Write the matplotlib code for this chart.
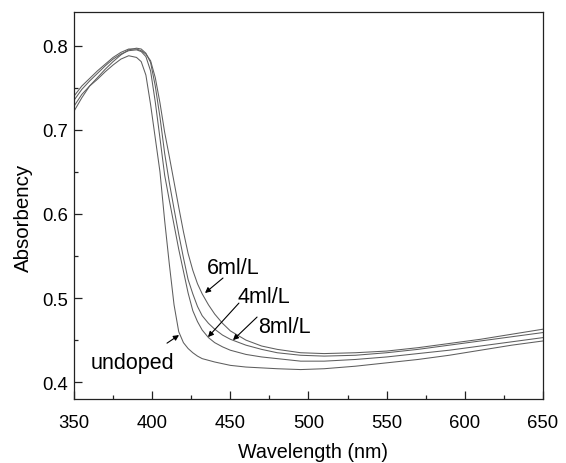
import matplotlib
matplotlib.use("Agg")
import matplotlib.pyplot as plt
from matplotlib.ticker import MultipleLocator

plt.rcParams['font.family'] = ['Liberation Sans', 'DejaVu Sans']

wavelength = [350, 355, 360, 365, 370, 375, 380, 385, 390, 393, 396, 399, 402, 405,
              408, 411, 414, 417, 420, 423, 426, 429, 432, 436, 440, 445, 450, 460,
              470, 480, 495, 510, 530, 550, 570, 590, 610, 630, 650]

undoped = [0.728, 0.742, 0.752, 0.760, 0.769, 0.777, 0.784, 0.788, 0.786, 0.781, 0.765,
           0.730, 0.690, 0.650, 0.592, 0.540, 0.492, 0.460, 0.447, 0.440, 0.435, 0.431,
           0.428, 0.426, 0.424, 0.422, 0.420, 0.418, 0.417, 0.416, 0.415, 0.416, 0.419,
           0.423, 0.427, 0.432, 0.438, 0.444, 0.449]

ml4 = [0.735, 0.748, 0.758, 0.767, 0.776, 0.784, 0.790, 0.794, 0.795, 0.793, 0.787,
       0.770, 0.733, 0.690, 0.646, 0.616, 0.587, 0.558, 0.532, 0.506, 0.485, 0.472,
       0.462, 0.453, 0.447, 0.442, 0.438, 0.433, 0.430, 0.428, 0.425, 0.425, 0.427,
       0.430, 0.434, 0.438, 0.443, 0.448, 0.453]

ml8 = [0.722, 0.738, 0.752, 0.762, 0.772, 0.781, 0.789, 0.795, 0.797, 0.796, 0.791,
       0.780, 0.752, 0.715, 0.672, 0.637, 0.606, 0.576, 0.548, 0.522, 0.505, 0.490,
       0.479, 0.470, 0.463, 0.456, 0.451, 0.444, 0.439, 0.435, 0.432, 0.431, 0.432,
       0.435, 0.439, 0.444, 0.449, 0.454, 0.459]

ml6 = [0.740, 0.752, 0.761, 0.770, 0.778, 0.786, 0.792, 0.796, 0.796, 0.794, 0.790,
       0.782, 0.762, 0.732, 0.697, 0.668, 0.638, 0.608, 0.579, 0.553, 0.533, 0.517,
       0.505, 0.492, 0.481, 0.470, 0.461, 0.450, 0.443, 0.439, 0.435, 0.434, 0.435,
       0.437, 0.441, 0.446, 0.451, 0.457, 0.463]

labels = ["undoped", "4ml/L", "6ml/L", "8ml/L"]

fig = plt.figure(figsize=(5.66, 4.64), dpi=100)
ax = fig.add_axes([0.1307, 0.1379, 0.8287, 0.8341])

for series in (undoped, ml4, ml8, ml6):
    ax.plot(wavelength, series, color='#5e5e5e', lw=0.75)

ax.set_xlim(350, 650)
ax.set_ylim(0.38, 0.84)
ax.xaxis.set_major_locator(MultipleLocator(50))
ax.xaxis.set_minor_locator(MultipleLocator(25))
ax.yaxis.set_major_locator(MultipleLocator(0.1))
ax.yaxis.set_minor_locator(MultipleLocator(0.05))
ax.tick_params(which='both', direction='in', top=False, right=False,
               labelsize=13.3, color='#222222', width=0.9)
ax.tick_params(axis='x', which='both', pad=10.5)
ax.tick_params(axis='y', which='both', pad=4.5)
ax.tick_params(which='major', length=6)
ax.tick_params(which='minor', length=3)
for s in ax.spines.values():
    s.set_color('#222222')
    s.set_linewidth(0.9)

ax.set_xlabel("Wavelength (nm)", fontsize=14.2)
ax.set_ylabel("Absorbency", fontsize=14.8)
ax.xaxis.set_label_coords(0.51, -0.112)
ax.yaxis.set_label_coords(-0.087, 0.47)

arrow = dict(arrowstyle='-|>', lw=0.8, color='black', mutation_scale=8,
             shrinkA=0, shrinkB=0)
# text positions (baseline) and arrows (tail -> head)
ax.text(435.1, 0.530, labels[2], fontsize=15.5, ha='left', va='baseline')
ax.text(454.3, 0.4956, labels[1], fontsize=15.5, ha='left', va='baseline')
ax.text(467.7, 0.460, labels[3], fontsize=15.5, ha='left', va='baseline')
ax.text(414.0, 0.4167, labels[0], fontsize=15.5, ha='right', va='baseline')

ax.annotate("", xy=(433.8, 0.506), xytext=(445.3, 0.5238), arrowprops=arrow)
ax.annotate("", xy=(435.7, 0.4536), xytext=(455.5, 0.494), arrowprops=arrow)
ax.annotate("", xy=(451.7, 0.450), xytext=(467.1, 0.4774), arrowprops=arrow)
ax.annotate("", xy=(417.2, 0.456), xytext=(409.5, 0.4464), arrowprops=arrow)

fig.savefig("out.png", dpi=100)
